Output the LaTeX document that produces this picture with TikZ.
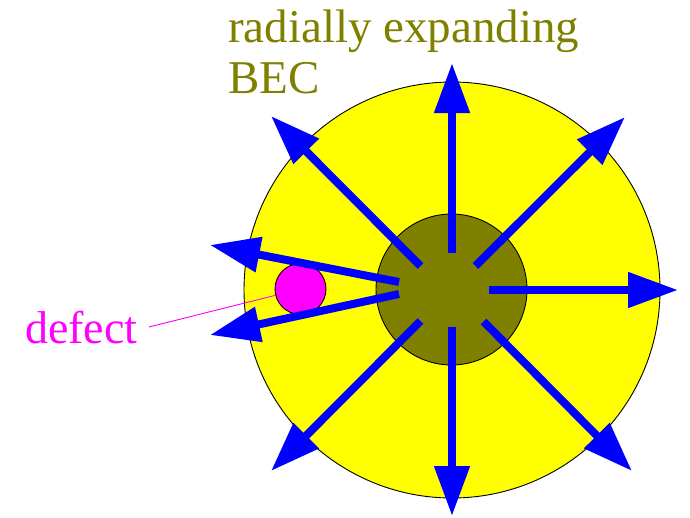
\documentclass[tikz,border=0pt]{standalone}
\usepackage{fontspec}
\setmainfont{Liberation Serif}
\usepackage{xcolor}
\usepackage{tikz}
\usetikzlibrary{arrows.meta}
\definecolor{becyellow}{RGB}{255,255,0}
\definecolor{becolive}{RGB}{128,128,0}
\definecolor{rayblue}{RGB}{0,0,255}
\definecolor{defectpink}{RGB}{255,0,255}

\begin{document}
\begin{tikzpicture}[
x=1pt,
y=-1pt,
cloud/.style={circle,draw=black,fill=becyellow,line width=0.9pt,inner sep=0pt,minimum size=416pt},
core/.style={circle,draw=black,fill=becolive,line width=0.9pt,inner sep=0pt,minimum size=151pt},
hole/.style={circle,draw=black,fill=defectpink,line width=0.9pt,inner sep=0pt,minimum size=51pt},
ray/.style={-{Triangle[length=50pt,width=34pt]},draw=rayblue,fill=rayblue,line width=8pt},
lbl/.style={inner sep=0pt,anchor=base west}
]
\useasboundingbox (0,0) rectangle (690,517);
\node[cloud] (bec) at (452,290) {};
\node[core] (centre) at (451.5,289.5) {};
\node[hole] (defect) at (300.5,289) {};
\node[lbl,text=defectpink,font=\fontsize{46}{51}\selectfont] (deflbl) at (25,343) {defect};
\node[lbl,text=becolive,font=\fontsize{47}{51}\selectfont,align=left] (title) at (228,93) {radially expanding\\BEC};
\coordinate (pointer) at (149,327);
\draw[defectpink,line width=0.9pt] (pointer) -- (defect);
% rays out of the condensate
\foreach \sx/\sy/\tx/\ty in {452/253/452/63, 452/327/452/516, 489/290/678/290,
  475.5/266/625/117, 420.5/266/271/116, 420.5/321/271/471, 483.5/321.5/632/471,
  399/282/210/245, 399/294/210/335}
  \draw[ray] (\sx,\sy) -- (\tx,\ty);
\end{tikzpicture}
\end{document}
